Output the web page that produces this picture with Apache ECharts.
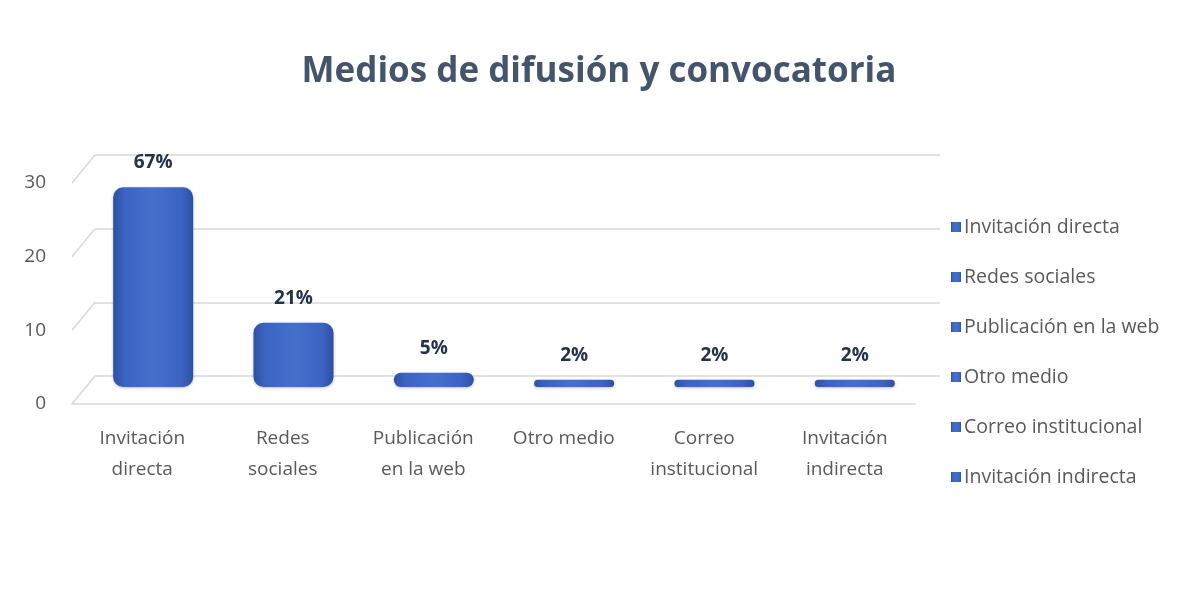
<!DOCTYPE html>
<html>
<head>
<meta charset="utf-8">
<script src="https://cdn.jsdelivr.net/npm/echarts@6/dist/echarts.min.js"></script>
<style>
html,body{margin:0;padding:0;background:#fff;}
#chart{width:1199px;height:606px;}
</style>
</head>
<body>
<div id="chart"></div>
<script>
// ---- data ----
const categories = ['Invitación directa', 'Redes sociales', 'Publicación en la web', 'Otro medio', 'Correo institucional', 'Invitación indirecta'];
const axisLabels = ['Invitación\ndirecta', 'Redes\nsociales', 'Publicación\nen la web', 'Otro medio', 'Correo\ninstitucional', 'Invitación\nindirecta'];
const values = [28, 9, 2, 1, 1, 1];
const yTicks = [0, 10, 20, 30];
const titleText = 'Medios de difusión y convocatoria';

const total = values.reduce((a, b) => a + b, 0);
const FONT = '"Open Sans", "Noto Sans", sans-serif';
const GRAY = '#D9D9D9';
const TXT = '#595959';

const barColor = {
  type: 'linear', x: 0, y: 0, x2: 1, y2: 0,
  colorStops: [
    { offset: 0, color: '#2C50A4' },
    { offset: 0.15, color: '#3C64C2' },
    { offset: 0.5, color: '#4470CC' },
    { offset: 0.85, color: '#3C64C2' },
    { offset: 1, color: '#2C50A4' }
  ]
};

const chart = echarts.init(document.getElementById('chart'), null, { renderer: 'canvas' });

const barSeries = categories.map((name, i) => ({
  type: 'bar',
  name: name,
  xAxisIndex: 1, yAxisIndex: 1,
  stack: 'one',
  barWidth: 80,
  data: categories.map((c, j) => (j === i ? values[i] : null)),
  itemStyle: { color: barColor, borderRadius: 10, shadowColor: 'rgba(0,0,0,0.25)', shadowBlur: 3, shadowOffsetY: 1 },
  label: {
    show: true, position: 'top', distance: 15,
    fontFamily: FONT, fontSize: 19, fontWeight: 'bold', color: '#263248',
    formatter: p => Math.round(p.value / total * 100) + '%'
  },
  z: 3
}));

const option = {
  backgroundColor: '#ffffff',
  animation: false,
  title: {
    text: titleText,
    left: 594, top: 50, textAlign: 'center',
    textStyle: { fontFamily: FONT, fontSize: 35, fontWeight: 'bold', color: '#44546A' }
  },
  legend: {
    orient: 'vertical',
    left: 946, top: 208,
    itemWidth: 10, itemHeight: 10, itemGap: 22,
    icon: 'rect',
    data: categories,
    textStyle: { fontFamily: FONT, fontSize: 19.5, color: TXT, padding: [0, 0, 0, -2], lineHeight: 28 }
  },
  grid: [
    { left: 95, top: 155, width: 845, height: 221 },   // back wall
    { left: 83, top: 173, width: 842, height: 214 },   // bars (mid depth)
    { left: 72, top: 183, width: 843, height: 221 }    // front floor
  ],
  xAxis: [
    { gridIndex: 0, type: 'category', data: categories, show: false },
    { gridIndex: 1, type: 'category', data: categories, show: false },
    {
      gridIndex: 2, type: 'category', data: categories,
      axisLine: { show: true, lineStyle: { color: GRAY, width: 1.5 } },
      axisTick: { show: false },
      axisLabel: {
        interval: 0, margin: 19, lineHeight: 31,
        fontFamily: FONT, fontSize: 19, color: TXT,
        formatter: (v, i) => axisLabels[i]
      }
    }
  ],
  yAxis: [
    {
      gridIndex: 0, type: 'value', min: 0, max: 30, interval: 10,
      axisLine: { show: false }, axisTick: { show: false }, axisLabel: { show: false },
      splitLine: { show: true, lineStyle: { color: GRAY, width: 1.5 } }
    },
    { gridIndex: 1, type: 'value', min: 0, max: 30, show: false, splitLine: { show: false } },
    {
      gridIndex: 2, type: 'value', min: 0, max: 30, interval: 10,
      axisLine: { show: false }, axisTick: { show: false },
      splitLine: { show: false },
      axisLabel: { margin: 26, fontFamily: FONT, fontSize: 19, color: TXT }
    }
  ],
  series: [
    {
      type: 'custom',
      xAxisIndex: 0, yAxisIndex: 0,
      silent: true,
      data: yTicks.map(t => [0, t]),
      renderItem: function (params, api) {
        const p = api.coord([0, api.value(1)]);
        const half = api.size([1, 0])[0] / 2;
        const x = p[0] - half;
        return {
          type: 'line',
          shape: { x1: x, y1: p[1], x2: x - 23, y2: p[1] + 28 },
          style: { stroke: GRAY, lineWidth: 1.5 }
        };
      },
      z: 1
    }
  ].concat(barSeries)
};
chart.setOption(option);
</script>
</body>
</html>
